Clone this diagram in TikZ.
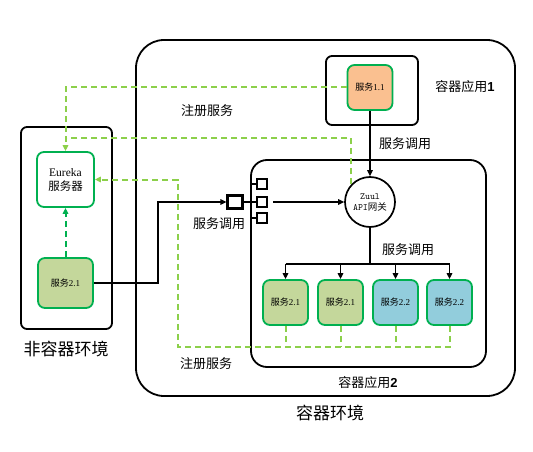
\documentclass[tikz,border=0pt]{standalone}
\usepackage{fontspec}
\setmainfont{Liberation Serif}
\newfontfamily\cjk{Noto Sans CJK SC}
\newfontfamily\lsans{Liberation Sans}
\usetikzlibrary{arrows.meta,calc,positioning}
\definecolor{mygreen}{HTML}{00B050}
\definecolor{mylime}{HTML}{8CD04A}
\definecolor{myolive}{HTML}{C4D79B}
\definecolor{myblue}{HTML}{92CDDC}
\definecolor{myorange}{HTML}{FAC090}

\begin{document}
\begin{tikzpicture}[x=1pt,y=-1pt,
		box/.style={draw, line width=1.8pt, rounded corners=#1, inner sep=0pt},
		box/.default=6pt,
		svc/.style={draw=mygreen, line width=1.8pt, rounded corners=7pt, minimum width=45pt, minimum height=45pt, inner sep=0pt, font=\fontsize{9}{11}\selectfont},
		tag/.style={font=\fontsize{13}{15}\selectfont\cjk},
		bigtag/.style={font=\fontsize{17}{20}\selectfont\cjk},
		call/.style={line width=1.7pt, -{Triangle[length=6pt,width=5.5pt]}},
		reg/.style={draw=mylime, line width=2pt, dash pattern=on 6pt off 4pt},
		regarrow/.style={reg, -{Triangle[length=6pt,width=5.5pt]}},
		port/.style={draw, line width=1.5pt, fill=white, inner sep=0pt}]
		\useasboundingbox (0,0) rectangle (533,452);
		%% the environments and the two container apps
		\node[box=28pt, minimum width=379pt, minimum height=356pt] (env) at (325.5,218) {};
		\node[box, minimum width=91pt, minimum height=202pt] (host) at (66.5,228) {};
		\node[box, minimum width=92pt, minimum height=69pt] (app1) at (372,90.5) {};
		\node[box=16pt, minimum width=235pt, minimum height=207pt] (app2) at (368.5,263.5) {};
		%% services
		\node[svc, fill=myorange] (s11) at (370,87.5) {{\cjk 服务}1.1};
		\node[svc, fill=white, minimum width=57pt, minimum height=55pt, font=\fontsize{11.5}{14}\selectfont, align=center] (eureka) at (65.5,179.5) {Eureka\\{\cjk 服务器}};
		\node[svc, fill=myolive, minimum width=55pt, minimum height=50pt] (s21) at (65.5,283) {{\cjk 服务}2.1};
		\node[svc, fill=myolive] (b1) at (285.5,302.5) {{\cjk 服务}2.1};
		\node[svc, fill=myolive] (b2) at (340.5,302.5) {{\cjk 服务}2.1};
		\node[svc, fill=myblue] (b3) at (395.5,302.5) {{\cjk 服务}2.2};
		\node[svc, fill=myblue] (b4) at (449.5,302.5) {{\cjk 服务}2.2};
		\node[circle, draw, line width=1.7pt, fill=white, minimum size=50pt, inner sep=0pt, align=center, font=\fontsize{9.5}{11}\selectfont\ttfamily] (zuul) at (370,202) {Zuul\\API{\cjk 网关}};
		%% the port on the border of app 2
		\node[port, line width=2.2pt, minimum width=15pt, minimum height=13pt] (hub) at (235,202) {};
		\node[port, line width=2pt, minimum size=10pt] (p1) at (262,184) {};
		\node[port, line width=2pt, minimum size=10pt] (p2) at (262,202) {};
		\node[port, line width=2pt, minimum size=10pt] (p3) at (262,218) {};
		\draw[line width=1.8pt] (hub.east) -- (p2.west);
		\draw[line width=1.8pt] (p1.west) -- (p1.west -| app2.west);
		\draw[line width=1.8pt] (p3.west) -- (p3.west -| app2.west);
		%% service calls
		\coordinate (bend) at (158,283);
		\draw[call] (s21.east) -- (bend) |- (hub.west);
		\draw[call] ([xshift=5pt]p2.east) -- (zuul.west);
		\draw[call] (s11.south) -- (zuul.north);
		\draw[line width=1.7pt] (zuul.south) -- ++(0,36) coordinate (split);
		\draw[line width=1.7pt] (b1.north |- split) -- (b4.north |- split);
		\draw[call] (b1.north |- split) -- (b1.north);
		\draw[call] (b2.north |- split) -- (b2.north);
		\draw[call] (b3.north |- split) -- (b3.north);
		\draw[call] (b4.north |- split) -- (b4.north);
		%% registration with eureka
		\coordinate (regtop) at (66,138);
		\coordinate (regbus) at (178,347);
		\draw[regarrow] (s11.west) -| (eureka.north);
		\draw[reg] (zuul.136) |- (regtop);
		\draw[regarrow] (b4.south) |- (regbus) |- (eureka.east);
		\draw[reg] (b1.south) -- (b1.south |- regbus);
		\draw[reg] (b2.south) -- (b2.south |- regbus);
		\draw[reg] (b3.south) -- (b3.south |- regbus);
		\draw[regarrow, draw=mygreen] (s21.north) -- (eureka.south);
		%% labels
		\node[tag] (lreg1) at (207,111) {注册服务};
		\node[tag] (lreg2) at (206,364) {注册服务};
		\node[tag] (lcall1) at (405,144) {服务调用};
		\node[tag] (lcall2) at (219,224) {服务调用};
		\node[tag] (lcall3) at (408,250) {服务调用};
		\node[tag] (lapp1) at (465,87) {容器应用{\lsans\bfseries 1}};
		\node[tag] (lapp2) at (368,383) {容器应用{\lsans\bfseries 2}};
		\node[bigtag] (lenv) at (330,413) {容器环境};
		\node[bigtag] (lhost) at (66,349) {非容器环境};
	\end{tikzpicture}
\end{document}
